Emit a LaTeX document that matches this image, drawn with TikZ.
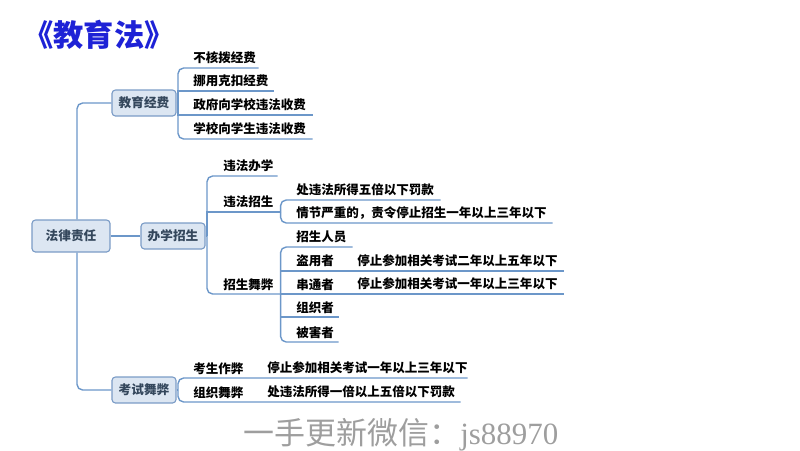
\documentclass[tikz,border=0pt]{standalone}
\usepackage{fontspec}
\setmainfont{Noto Sans CJK SC}
\newfontfamily\wmfont{Liberation Serif}
\definecolor{linkblue}{HTML}{6C97C9}
\definecolor{boxfill}{HTML}{DCE6F2}
\definecolor{boxline}{HTML}{7B9CC6}
\definecolor{boxtext}{HTML}{34475C}
\definecolor{titleblue}{HTML}{1E22D6}
\begin{document}
\begin{tikzpicture}[x=0.025cm,y=-0.025cm,
        main node/.style={rectangle,draw=boxline,fill=boxfill,line width=0.8pt,rounded corners=2.5pt,
            minimum width=1.6cm,minimum height=0.65cm,inner sep=2pt,text=boxtext,font=\fontsize{9}{10}\selectfont\bfseries},
        leaf node/.style={anchor=south west,inner xsep=0pt,inner ysep=2.5pt,text width=#1,align=left,
            font=\fontsize{8.9}{10}\selectfont\bfseries},
        link/.style={draw=linkblue,line width=1pt}]
    \useasboundingbox (0,0) rectangle (800,450);

    \node[font=\fontsize{21.5}{24}\selectfont\bfseries,text=titleblue] (0) at (99,35) {《教育法》};
    \node[main node,minimum width=1.95cm,minimum height=0.8cm] (1) at (71,236) {法律责任};
    \node[main node] (2) at (144,103) {教育经费};
    \node[main node] (3) at (173,236) {办学招生};
    \node[main node] (4) at (144,390) {考试舞弊};

    \coordinate (r) at (77,236);
    \coordinate (t2) at (178,103);
    \coordinate (t3) at (207,236);
    \coordinate (t4) at (178,390);

    \node[leaf node=1.625cm] (5) at (193,68) {不核拨经费};
    \node[leaf node=2cm] (6) at (193,91) {挪用克扣经费};
    \node[leaf node=2.975cm] (7) at (193,115) {政府向学校违法收费};
    \node[leaf node=2.975cm] (8) at (193,139) {学校向学生违法收费};

    \node[leaf node=1.35cm] (9) at (223,176) {违法办学};
    \node[leaf node=1.425cm] (10) at (223,212) {违法招生};
    \node[leaf node=1.425cm] (11) at (223,294) {招生舞弊};

    \node[leaf node=3.6cm] (12) at (296,200) {处违法所得五倍以下罚款};
    \node[leaf node=6.4cm] (13) at (296,223) {情节严重的，责令停止招生一年以上三年以下};

    \node[leaf node=1.4cm] (14) at (296,247) {招生人员};
    \node[leaf node=1.225cm] (15) at (296,271) {盗用者};
    \node[leaf node=5.15cm] (16) at (357,271) {停止参加相关考试二年以上五年以下};
    \node[leaf node=1.225cm] (17) at (296,294) {串通者};
    \node[leaf node=5.15cm] (18) at (357,294) {停止参加相关考试一年以上三年以下};
    \node[leaf node=1.05cm] (19) at (296,317) {组织者};
    \node[leaf node=1.05cm] (20) at (296,342) {被害者};

    \node[leaf node=1.55cm] (21) at (193,378) {考生作弊};
    \node[leaf node=5cm] (22) at (267,378) {停止参加相关考试一年以上三年以下};
    \node[leaf node=1.55cm] (23) at (193,402) {组织舞弊};
    \node[leaf node=4.825cm] (24) at (267,402) {处违法所得一倍以上五倍以下罚款};

    \node[text=black!38,font=\fontsize{22}{24}\selectfont] (25) at (401,435) {一手更新微信：{\wmfont js88970}};

    % root
    \draw[link,rounded corners=4pt] (1.north -| r) |- (2.west);
    \draw[link,rounded corners=4pt] (1.south -| r) |- (4.west);
    \draw[link] (1.east) -- (3.west);

    % 教育经费
    \draw[link] (2.east) -- (t2);
    \draw[link,rounded corners=4pt] (t2) |- (5.south west) -- (5.south east);
    \draw[link] (t2) |- (6.south west) -- (6.south east);
    \draw[link] (t2) |- (7.south west) -- (7.south east);
    \draw[link,rounded corners=4pt] (t2) |- (8.south west) -- (8.south east);

    % 办学招生
    \draw[link] (3.east) -- (t3);
    \draw[link,rounded corners=4pt] (t3) |- (9.south west) -- (9.south east);
    \draw[link] (t3) |- (10.south west) -- (10.south east);
    \draw[link,rounded corners=4pt] (t3) |- (11.south west) -- (11.south east);
    \draw[link,rounded corners=4pt] (10.south east) |- (12.south west) -- (12.south east);
    \draw[link,rounded corners=4pt] (10.south east) |- (13.south west) -- (13.south east);
    \draw[link,rounded corners=4pt] (11.south east) |- (14.south west) -- (14.south east);
    \draw[link] (11.south east) |- (15.south west) -- (15.south east) -- (16.south west) -- (16.south east);
    \draw[link] (11.south east) -- (17.south west) -- (17.south east) -- (18.south west) -- (18.south east);
    \draw[link] (11.south east) |- (19.south west) -- (19.south east);
    \draw[link,rounded corners=4pt] (11.south east) |- (20.south west) -- (20.south east);

    % 考试舞弊
    \draw[link] (4.east) -- (t4);
    \draw[link,rounded corners=4pt] (t4) |- (21.south west) -- (21.south east) -- (22.south west) -- (22.south east);
    \draw[link,rounded corners=4pt] (t4) |- (23.south west) -- (23.south east) -- (24.south west) -- (24.south east);
\end{tikzpicture}
\end{document}
